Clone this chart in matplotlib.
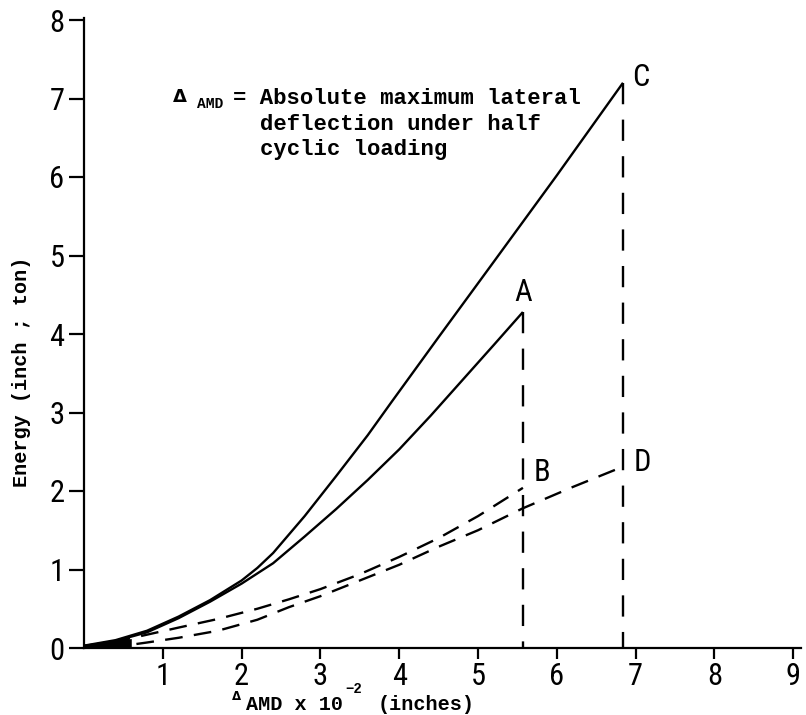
import matplotlib
matplotlib.use("Agg")
import matplotlib.pyplot as plt
from matplotlib import font_manager
from matplotlib.font_manager import FontProperties

# ---------------- data ----------------
x_ticks = [1, 2, 3, 4, 5, 6, 7, 8, 9]
y_ticks = [0, 1, 2, 3, 4, 5, 6, 7, 8]
x_ticklabels = ["1", "2", "3", "4", "5", "6", "7", "8", "9"]
y_ticklabels = ["0", "1", "2", "3", "4", "5", "6", "7", "8"]

# solid curve ending at C
xC = [0, 0.4, 0.8, 1.2, 1.6, 2.0, 2.2, 2.4, 2.8, 3.2, 3.6, 3.9, 4.5, 5.2, 6.0, 6.84]
yC = [0.03, 0.10, 0.22, 0.40, 0.61, 0.86, 1.02, 1.21, 1.68, 2.19, 2.71, 3.13, 3.96, 4.92, 6.02, 7.20]

# solid curve ending at A
xA = [0, 0.4, 0.8, 1.2, 1.6, 2.0, 2.4, 2.8, 3.2, 3.6, 4.0, 4.4, 4.8, 5.2, 5.57]
yA = [0.02, 0.09, 0.20, 0.38, 0.59, 0.82, 1.08, 1.42, 1.77, 2.14, 2.53, 2.96, 3.41, 3.86, 4.28]

# dashed curve ending at B
xB = [0, 0.4, 0.8, 1.2, 1.7, 2.2, 2.6, 3.0, 3.5, 4.0, 4.5, 5.0, 5.57]
yB = [0.02, 0.08, 0.17, 0.26, 0.37, 0.50, 0.62, 0.75, 0.94, 1.16, 1.40, 1.68, 2.04]

# dashed curve ending at D
xD = [0.3, 0.8, 1.2, 1.7, 2.2, 2.6, 3.0, 3.5, 4.0, 4.5, 5.0, 5.57, 6.2, 6.84]
yD = [0.0, 0.07, 0.13, 0.22, 0.36, 0.52, 0.66, 0.86, 1.06, 1.29, 1.50, 1.78, 2.05, 2.31]

# dark wedge near the origin
wedge_x = [0, 0.3, 0.6]
wedge_top = [0.05, 0.09, 0.12]

point_labels = ["A", "B", "C", "D"]
label_x = [5.57, 5.81, 7.06, 7.09]
label_y = [4.53, 2.24, 7.27, 2.36]

# ---------------- fonts ----------------
avail = {f.name for f in font_manager.fontManager.ttflist}
num_font = None
num_stretch = "normal"
for cand in ["Liberation Sans Narrow", "Roboto Condensed", "Open Sans Condensed"]:
    if cand in avail:
        num_font = cand
        break
if num_font is None:
    path = font_manager.findfont(FontProperties(family="DejaVu Sans", stretch="condensed"))
    num_font = "DejaVu Sans"
    if "Condensed" in path:
        num_stretch = "condensed"
mono = "Liberation Mono" if "Liberation Mono" in avail else "DejaVu Sans Mono"

W, H = 806, 715
fig = plt.figure(figsize=(W / 100, H / 100), dpi=100)

x0, y0 = 84, 648
ux, uy = 78.8, 78.5
xmax, ymax = 9.1, 8.02
ax = fig.add_axes([x0 / W, 1 - y0 / H, ux * xmax / W, uy * ymax / H])
ax.set_xlim(0, xmax)
ax.set_ylim(0, ymax)

for s in ["top", "right"]:
    ax.spines[s].set_visible(False)
for s in ["left", "bottom"]:
    ax.spines[s].set_linewidth(1.6)
    ax.spines[s].set_color("black")

ax.set_xticks(x_ticks)
ax.set_xticklabels(x_ticklabels)
ax.set_yticks(y_ticks)
ax.set_yticklabels(y_ticklabels)
ax.tick_params(axis="x", direction="out", length=8, width=1.6, pad=2)
ax.tick_params(axis="y", direction="out", length=11, width=1.6, pad=3)
for lab in ax.get_xticklabels() + ax.get_yticklabels():
    lab.set_fontfamily(num_font)
    lab.set_fontstretch(num_stretch)
    lab.set_fontsize(22)

lw = 1.7
ax.plot(xC, yC, color="black", lw=lw, solid_capstyle="butt")
ax.plot(xA, yA, color="black", lw=lw, solid_capstyle="butt")
ax.plot(xB, yB, color="black", lw=lw, dashes=(7.5, 4.8))
ax.plot(xD, yD, color="black", lw=lw, dashes=(7.5, 4.8))
ax.fill_between(wedge_x, 0, wedge_top, color="black", lw=0)

# vertical dashed drop lines at A and C
ax.plot([xA[-1], xA[-1]], [yA[-1], 0], color="black", lw=lw, dashes=(9, 6.5))
ax.plot([xC[-1], xC[-1]], [yC[-1], 0], color="black", lw=lw, dashes=(9, 6.5))

for t, lx, ly in zip(point_labels, label_x, label_y):
    ax.text(lx, ly, t, fontsize=22, family=num_font, stretch=num_stretch,
            ha="center", va="center")

def fx(px):
    return px / W

def fy(py):
    return 1 - py / H

# annotation
fig.text(fx(180), fy(97), "Δ", fontsize=13, family="DejaVu Sans", fontweight="bold",
         ha="center", va="center")
fig.text(fx(197), fy(104), "AMD", fontsize=10.5, family=mono, fontweight="bold",
         ha="left", va="center")
fig.text(fx(233), fy(99), "= Absolute maximum lateral", fontsize=16, family=mono,
         fontweight="bold", ha="left", va="center")
fig.text(fx(260), fy(124), "deflection under half", fontsize=16, family=mono,
         fontweight="bold", ha="left", va="center")
fig.text(fx(260), fy(149), "cyclic loading", fontsize=16, family=mono,
         fontweight="bold", ha="left", va="center")

# y label
fig.text(fx(22), fy(372), "Energy (inch ; ton)", fontsize=14.5, family=mono,
         fontweight="bold", rotation=90, ha="center", va="center")

# x label
fig.text(fx(237), fy(697), "Δ", fontsize=8.5, family="DejaVu Sans", fontweight="bold",
         ha="center", va="center")
fig.text(fx(246), fy(704), "AMD x 10", fontsize=14.5, family=mono, fontweight="bold",
         ha="left", va="center")
fig.text(fx(345), fy(689), "−2", fontsize=10, family=mono, fontweight="bold",
         ha="left", va="center")
fig.text(fx(378), fy(704), "(inches)", fontsize=14.5, family=mono, fontweight="bold",
         ha="left", va="center")

fig.savefig("out.png", dpi=100, facecolor="white")
